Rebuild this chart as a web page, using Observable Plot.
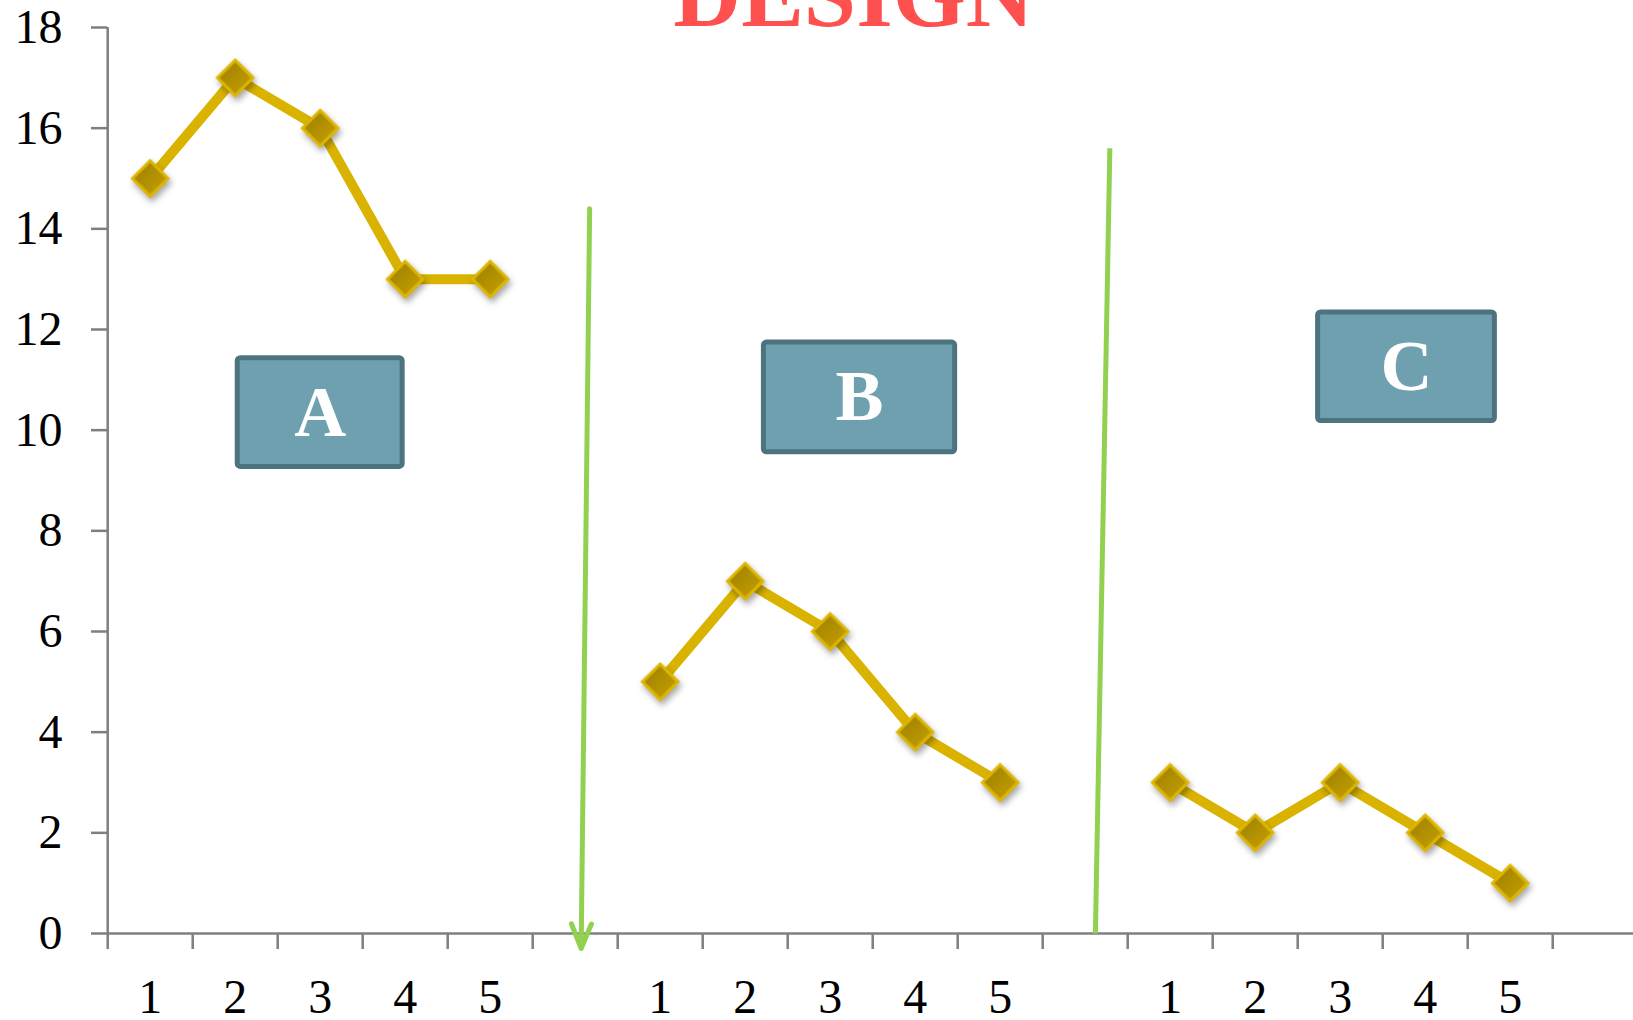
<!DOCTYPE html>
<html>
<head>
<meta charset="utf-8">
<script src="https://cdn.jsdelivr.net/npm/d3@7"></script>
<script src="https://cdn.jsdelivr.net/npm/@observablehq/plot@0.6"></script>
<style>
  html, body { margin: 0; padding: 0; background: #fff; overflow: hidden; }
</style>
</head>
<body>
<div id="chart"></div>
<script>
// ---- data ----
const title = "DESIGN";
const groups = ["A", "B", "C"];
const categories = ["1", "2", "3", "4", "5"];
const seriesA = [15, 17, 16, 13, 13];
const seriesB = [5, 7, 6, 4, 3];
const seriesC = [3, 2, 3, 2, 1];
const yTicks = [0, 2, 4, 6, 8, 10, 12, 14, 16, 18];

// annotation boxes (data units)
const boxLabels = ["A", "B", "C"];
const boxLeft = [1.53, 7.72, 14.24];
const boxRight = [3.47, 9.97, 16.32];
const boxBottom = [9.27, 9.56, 10.18];
const boxTop = [11.43, 11.74, 12.34];

// green dividers (data units)
const dividerTopX = [5.67, 11.79];
const dividerTopY = [14.4, 15.6];
const dividerBottomX = [5.57, 11.62];
const dividerBottomY = [-0.3, 0];
const dividerArrow = [true, false];

// ---- derived ----
const slotsPerGroup = 6;
const totalSlots = 18;
const series = [seriesA, seriesB, seriesC];
const points = groups.flatMap((g, gi) =>
  series[gi].map((v, i) => ({group: g, slot: gi * slotsPerGroup + i + 0.5, value: v, label: categories[i]}))
);
const boxes = boxLabels.map((l, i) => ({label: l, x1: boxLeft[i], x2: boxRight[i], y1: boxBottom[i], y2: boxTop[i]}));
const dividers = dividerTopX.map((x, i) => ({x1: x, y1: dividerTopY[i], x2: dividerBottomX[i], y2: dividerBottomY[i], arrow: dividerArrow[i]}));

const gold = "#D9B300";
const axisGray = "#7F7F7F";
const green = "#92D050";

const svg = Plot.plot({
  width: 1633,
  height: 1020,
  marginLeft: 107,
  marginRight: 0,
  marginTop: 27,
  marginBottom: 87,
  x: {type: "linear", domain: [0, totalSlots], range: [107.2, 1637.2]},
  y: {domain: [0, 18]},
  style: {fontFamily: "'Liberation Serif', serif", background: "#fff", color: "#000", overflow: "visible"},
  marks: [
    Plot.text([title], {
      frameAnchor: "top", text: d => d, dx: -17, dy: -1.4, lineAnchor: "bottom",
      fontSize: 94, fontWeight: "bold", fill: "#FF5050"
    }),
    Plot.axisY({ticks: yTicks, tickSize: 16, tickPadding: 29, fontSize: 48, stroke: axisGray, strokeWidth: 2.5, fill: "#000", label: null, tickFormat: d => String(d)}),
    Plot.ruleX([0], {stroke: axisGray, strokeWidth: 2.5}),
    Plot.axisX({ticks: d3.range(0, totalSlots + 1), tickSize: 16, tickFormat: () => "", stroke: axisGray, strokeWidth: 2.5, label: null}),
    Plot.ruleY([0], {stroke: axisGray, strokeWidth: 2.5}),
    Plot.text(points, {x: "slot", frameAnchor: "bottom", dy: 79, text: "label", fontSize: 48, fill: "#000"}),
    Plot.line(points, {x: "slot", y: "value", z: "group", stroke: gold, strokeWidth: 10, strokeLinejoin: "round"}),
    Plot.dot(points, {x: "slot", y: "value", symbol: "diamond2", r: 16, fill: "url(#diamondGrad)", stroke: "#DDB600", strokeWidth: 3}),
    Plot.arrow(dividers.filter(d => d.arrow), {x1: "x1", y1: "y1", x2: "x2", y2: "y2", stroke: green, strokeWidth: 5, headAngle: 44, headLength: 8}),
    Plot.link(dividers.filter(d => !d.arrow), {x1: "x1", y1: "y1", x2: "x2", y2: "y2", stroke: green, strokeWidth: 5}),
    Plot.rect(boxes, {x1: "x1", x2: "x2", y1: "y1", y2: "y2", fill: "#6FA0AF", stroke: "#4E7380", strokeWidth: 5, rx: 3}),
    Plot.text(boxes, {x: d => (d.x1 + d.x2) / 2, y: d => (d.y1 + d.y2) / 2, text: "label", fontSize: 72, fontWeight: "bold", fill: "#fff", lineAnchor: "middle"})
  ]
});

// gradient + shadow for diamond markers
const defs = d3.select(svg).insert("defs", ":first-child");
const grad = defs.append("linearGradient").attr("id", "diamondGrad")
  .attr("x1", "0").attr("y1", "0").attr("x2", "1").attr("y2", "1");
grad.append("stop").attr("offset", "0%").attr("stop-color", "#9A7D00");
grad.append("stop").attr("offset", "100%").attr("stop-color", "#C9A300");
d3.select(svg).selectAll('g[aria-label="dot"]').style("filter", "drop-shadow(2px 4px 3px rgba(0,0,0,0.35))");

document.getElementById("chart").appendChild(svg);
</script>
</body>
</html>
